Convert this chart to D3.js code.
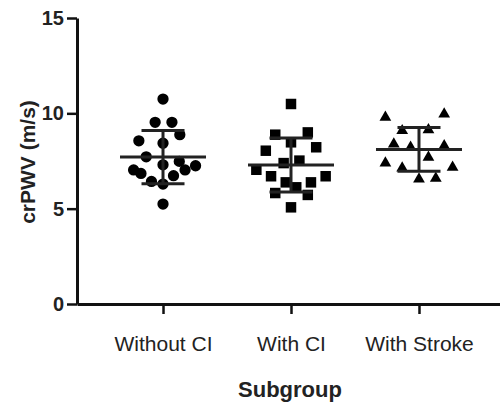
<!DOCTYPE html>
<html>
<head>
<meta charset="utf-8">
<script src="https://cdn.jsdelivr.net/npm/d3@7"></script>
<style>
  body { margin: 0; background: #fff; }
  svg { display: block; font-family: "Liberation Sans", Arial, sans-serif; }
</style>
</head>
<body>
<div id="chart"></div>
<script>
// Categories and crPWV values (m/s)
const groups = ["Without CI", "With CI", "With Stroke"];
const withoutCI = [10.75, 9.53, 9.53, 8.88, 8.56, 8.43, 7.72, 7.48, 7.30, 7.03, 7.03, 7.25, 6.85, 6.43, 6.73, 6.29, 5.24];
const withCI = [10.49, 8.88, 9.0, 8.48, 8.22, 8.04, 7.39, 7.52, 7.04, 6.70, 6.70, 6.38, 6.38, 6.12, 5.82, 5.72, 5.07];
const withStroke = [9.79, 9.96, 9.09, 9.14, 8.39, 8.22, 8.30, 7.69, 7.39, 7.13, 7.17, 6.55, 6.59];
// horizontal jitter of each point (in marker widths) as in the scatter
const jitterA = [0, -0.75, 0.85, 1.6, -2.3, 0, -1.6, 1.55, 0, -2.8, 2.1, 3.1, -2.1, -1.1, 1.0, 0, 0];
const jitterB = [0, -1.5, 1.6, 0, 2.4, -2.4, -0.7, 0.8, -3.3, -1.9, 3.3, -0.5, 1.9, 0.5, -1.5, 1.6, 0];
const jitterC = [-3.2, 2.4, -1.6, 0.9, -2.4, -0.8, 2.4, 0.9, -3.2, -1.6, 3.2, 0, 1.6];
const yTicks = [0, 5, 10, 15];

const values = [withoutCI, withCI, withStroke];
const jitters = [jitterA, jitterB, jitterC];
const symbols = [d3.symbolCircle, d3.symbolSquare, d3.symbolTriangle];
const symbolSizes = [100, 110, 60];

const W = 500, H = 409;
const svg = d3.select("#chart").append("svg")
  .attr("width", W)
  .attr("height", H);

// Scales
const x = d3.scalePoint()
  .domain(groups)
  .range([77, 505])
  .padding(0.672);
const y = d3.scaleLinear()
  .domain([0, 15])
  .range([304, 18]);

// Axes
const yAxis = svg.append("g")
  .attr("transform", "translate(77,0)")
  .call(d3.axisLeft(y).tickValues(yTicks).tickSize(10).tickSizeOuter(0).tickPadding(3));
yAxis.selectAll("text")
  .style("font-size", "20px")
  .style("font-weight", "bold")
  .attr("fill", "#222");

const xAxis = svg.append("g")
  .attr("transform", "translate(0,304)")
  .call(d3.axisBottom(x).tickSize(10).tickSizeOuter(0).tickPadding(22));
xAxis.selectAll("text")
  .style("font-size", "21px")
  .attr("fill", "#222");

svg.selectAll(".domain, .tick line")
  .attr("stroke", "#111")
  .attr("stroke-width", 3);
svg.selectAll(".tick line").attr("stroke-width", 2.5);

// Axis titles
svg.append("text")
  .attr("transform", "rotate(-90)")
  .attr("x", -162)
  .attr("y", 28)
  .attr("dy", "0.35em")
  .attr("text-anchor", "middle")
  .style("font-size", "21px")
  .style("font-weight", "bold")
  .attr("fill", "#222")
  .text("crPWV (m/s)");

svg.append("text")
  .attr("x", 290)
  .attr("y", 397)
  .attr("text-anchor", "middle")
  .style("font-size", "22px")
  .style("font-weight", "bold")
  .attr("fill", "#222")
  .text("Subgroup");

// Points
const markerW = 10.5;
groups.forEach((g, i) => {
  const pts = values[i].map((v, j) => ({v, dx: jitters[i][j] * markerW}));
  svg.append("g")
    .selectAll("path")
    .data(pts)
    .join("path")
    .attr("d", d3.symbol().type(symbols[i]).size(symbolSizes[i]))
    .attr("transform", d => `translate(${x(g) + d.dx},${y(d.v)})`)
    .attr("fill", "#000");
});

// Mean and SD bars
const meanHalf = 43, sdHalf = 21.5;
groups.forEach((g, i) => {
  const m = d3.mean(values[i]);
  const sd = d3.deviation(values[i]);
  const cx = x(g);
  const bar = svg.append("g").attr("stroke", "#222").attr("stroke-width", 3);
  bar.append("line")
    .attr("x1", cx).attr("x2", cx)
    .attr("y1", y(m + sd)).attr("y2", y(m - sd));
  bar.append("line")
    .attr("x1", cx - meanHalf).attr("x2", cx + meanHalf)
    .attr("y1", y(m)).attr("y2", y(m));
  [m + sd, m - sd].forEach(v => {
    bar.append("line")
      .attr("x1", cx - sdHalf).attr("x2", cx + sdHalf)
      .attr("y1", y(v)).attr("y2", y(v));
  });
});
</script>
</body>
</html>
